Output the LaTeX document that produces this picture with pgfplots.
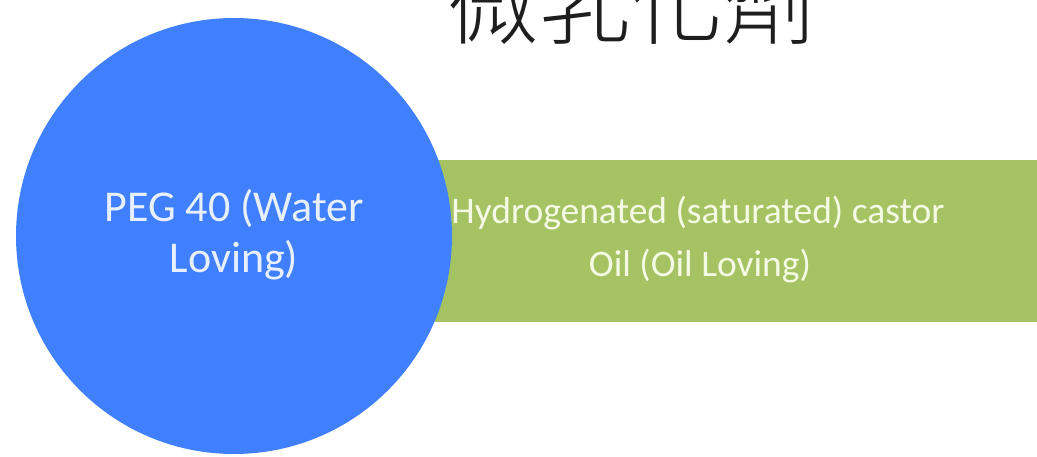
\documentclass[border=0pt]{standalone}
\usepackage{pgfplots}
\pgfplotsset{compat=1.18}
\usepackage{fontspec}
\setmainfont{Carlito}
\newfontfamily\cjk{Noto Sans CJK TC}[UprightFont={* Light}]
\definecolor{blueC}{RGB}{64,128,255}
\definecolor{greenR}{RGB}{166,195,100}
\definecolor{txtB}{RGB}{232,240,255}
\definecolor{txtG}{RGB}{244,250,228}
\definecolor{titleC}{RGB}{30,30,30}
\begin{document}
\begin{tikzpicture}[x=1pt,y=1pt]
\clip (0,0) rectangle (1037,456);
\begin{axis}[at={(0,0)},anchor=south west,scale only axis,width=1037pt,height=456pt,
  xmin=0,xmax=1037,ymin=0,ymax=456,hide axis,clip=false]
\addplot[fill=greenR,draw=none] coordinates {(430,134) (1040,134) (1040,296) (430,296)} --cycle;
\fill[blueC] (axis cs:234,220) circle [radius=218];
\node[anchor=base,text=txtB,font=\fontsize{44}{52}\selectfont] at (axis cs:234,234) {PEG 40 (Water};
\node[anchor=base,text=txtB,font=\fontsize{44}{52}\selectfont] at (axis cs:234,183) {Loving)};
\node[anchor=base,text=txtG,font=\fontsize{37.5}{45}\selectfont] at (axis cs:698,233) {Hydrogenated (saturated) castor};
\node[anchor=base,text=txtG,font=\fontsize{37.5}{45}\selectfont] at (axis cs:700,179) {Oil (Oil Loving)};
\node[anchor=base,text=titleC,font=\cjk\fontsize{92}{100}\selectfont] at (axis cs:631,418) {微乳化劑};
\end{axis}
\end{tikzpicture}
\end{document}
